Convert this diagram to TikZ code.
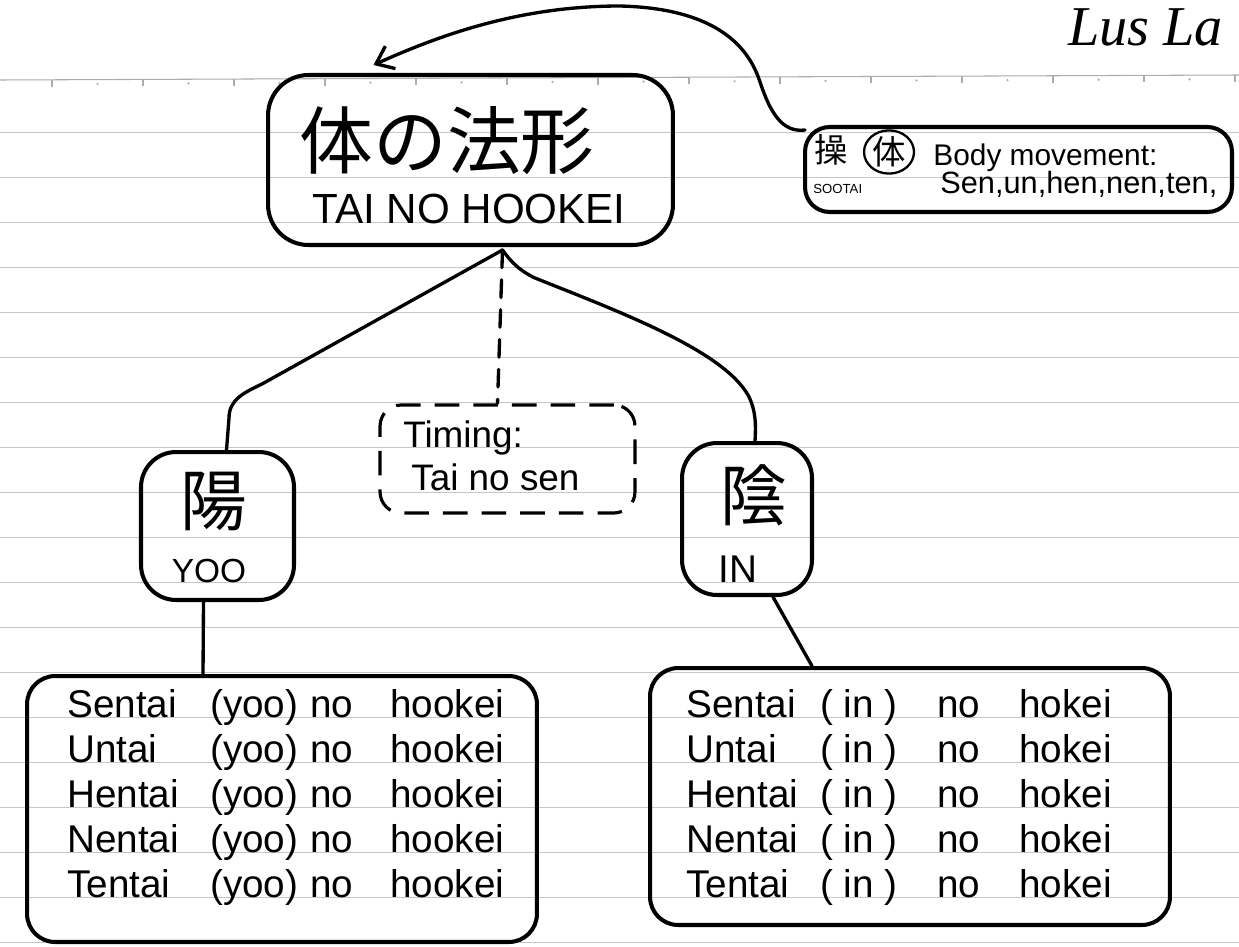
\documentclass[tikz,border=0pt]{standalone}
\usepackage{fontspec}
\setmainfont{Liberation Sans}
\newfontfamily\cjk{Noto Sans CJK JP}
\newfontfamily\sigfont{Liberation Serif}
\usetikzlibrary{calc,arrows.meta,shapes.geometric}
\newcommand{\lrow}[4]{\makebox[2.86cm][l]{#1}\makebox[2.0cm][l]{#2}\makebox[1.6cm][l]{#3}#4}
\newcommand{\rrow}[4]{\makebox[2.68cm][l]{#1}\makebox[2.34cm][l]{#2}\makebox[1.64cm][l]{#3}#4}
\tikzset{
  rule/.style={gray!45, line width=0.5pt},
  header/.style={gray!65, line width=0.6pt},
  box/.style={draw, line width=2.3pt, rounded corners=#1, inner sep=0pt},
  box/.default=18pt,
  dashbox/.style={box=#1, dash pattern=on 14pt off 8pt, line width=1.8pt},
  conn/.style={line width=1.9pt, line cap=round, line join=round},
  dashconn/.style={conn, dash pattern=on 10pt off 7pt},
  txt/.style={inner sep=0pt, anchor=base west},
  listfont/.style={font=\fontsize{22pt}{24pt}\selectfont},
  jp/.style={inner sep=0pt, font=\cjk\fontsize{#1}{#1}\selectfont},
}
\begin{document}
\begin{tikzpicture}[x=0.02cm, y=-0.02cm]
\useasboundingbox (0,0) rectangle (1239,946);
\fill[white] (0,0) rectangle (1239,946);
% ruled paper
\foreach \k in {0,...,18} \draw[rule] (0,{132+45*\k}) -- (1239,{132+45*\k});
\draw[header] (0,80) -- (1239,75);
\foreach \k in {-8,...,5} {
  \pgfmathsetmacro\xx{780+91*\k}
  \pgfmathsetmacro\yy{80-5*\xx/1239}
  \draw[header] ({\xx},{\yy}) -- ({\xx},{\yy+7});
  \fill[gray!65] ({\xx+45.5},{\yy+4}) circle (0.7pt);
}
% signature
\node[txt, font=\sigfont\itshape\fontsize{32pt}{32pt}\selectfont] (sig) at (1068,46) {Lus La};

% main box
\node[box=23pt, minimum width=8.1cm, minimum height=3.4cm] (main) at (470.5,160) {};
\node[jp=42pt] (mainjp) at (447,141) {体の法形};
\node[inner sep=0pt, anchor=base, font=\fontsize{24pt}{24pt}\selectfont] (mainro) at (469,223) {TAI NO HOOKEI};

% sootai box
\node[box=14pt, minimum width=8.54cm, minimum height=1.7cm] (soo) at (1018.5,169.5) {};
\node[jp=19pt] (sookj) at (831,150) {操};
\node[ellipse, draw, line width=1.3pt, minimum width=1.0cm, minimum height=0.8cm, inner sep=0pt, font=\cjk\fontsize{19pt}{19pt}\selectfont] (sootai) at (889,152) {体};
\node[txt, font=\fontsize{17pt}{17pt}\selectfont] (body) at (933,165) {Body movement:};
\node[txt, font=\fontsize{7.5pt}{8pt}\selectfont] (soorom) at (813,193) {SOOTAI};
\node[txt, font=\fontsize{17.5pt}{18pt}\selectfont] (senun) at (940,193) {Sen,un,hen,nen,ten,};

% timing box
\node[dashbox=12pt, minimum width=5.1cm, minimum height=2.16cm] (timing) at (507.5,459) {};
\node[txt, font=\fontsize{21pt}{21pt}\selectfont] (tim1) at (403,447) {Timing:};
\node[txt, font=\fontsize{21pt}{21pt}\selectfont] (tim2) at (411,490) {Tai no sen};

% yoo box
\node[box=20pt, minimum width=3.06cm, minimum height=2.96cm] (yoo) at (217.5,526) {};
\node[jp=38pt] (yookj) at (214,501) {陽};
\node[inner sep=0pt, anchor=base, font=\fontsize{19pt}{19pt}\selectfont] (yoorom) at (209,582) {YOO};

% in box
\node[box=20pt, minimum width=2.6cm, minimum height=3.04cm] (inbox) at (747,519) {};
\node[jp=38pt] (inkj) at (754,495) {陰};
\node[inner sep=0pt, anchor=base, font=\fontsize{22pt}{22pt}\selectfont] (inrom) at (738,582) {IN};

% lists
\node[box=16pt, minimum width=10.2cm, minimum height=5.32cm] (ylist) at (282,809) {};
\node[txt, listfont] (y1) at (67,717) {\lrow{Sentai}{(yoo)}{no}{hookei}};
\node[txt, listfont] (y2) at (67,762) {\lrow{Untai}{(yoo)}{no}{hookei}};
\node[txt, listfont] (y3) at (67,807) {\lrow{Hentai}{(yoo)}{no}{hookei}};
\node[txt, listfont] (y4) at (67,852) {\lrow{Nentai}{(yoo)}{no}{hookei}};
\node[txt, listfont] (y5) at (67,897) {\lrow{Tentai}{(yoo)}{no}{hookei}};

\node[box=16pt, minimum width=10.4cm, minimum height=5.14cm] (rlist) at (910,796.5) {};
\node[txt, listfont] (r1) at (686,717) {\rrow{Sentai}{( in )}{no}{hokei}};
\node[txt, listfont] (r2) at (686,762) {\rrow{Untai}{( in )}{no}{hokei}};
\node[txt, listfont] (r3) at (686,807) {\rrow{Hentai}{( in )}{no}{hokei}};
\node[txt, listfont] (r4) at (686,852) {\rrow{Nentai}{( in )}{no}{hokei}};
\node[txt, listfont] (r5) at (686,897) {\rrow{Tentai}{( in )}{no}{hokei}};

% connectors
\coordinate (apex) at ($(main.south)+(32,3)$);
\coordinate (sooc) at ($(soo.north west)+(2,5)$);
\coordinate (atip) at ($(main.north)+(-97,-8)$);
\draw[conn, -{Straight Barb[length=9pt,width=14pt]}] (sooc)
  .. controls (782,133) and (770,112) .. (760,82)
  .. controls (745,35) and (700,8) .. (620,6)
  .. controls (520,6) and (440,35) .. (atip);
\draw[conn] ($(yoo.north)+(9,0)$) -- (229,418)
  .. controls (229,400) and (243,393) .. (262,384) -- (apex);
\draw[conn] (apex) .. controls (511,262) and (520,271) .. (535,278)
  .. controls (620,312) and (722,350) .. (748,395)
  .. controls (756,410) and (756,425) .. ($(inbox.north)+(8,0)$);
\draw[dashconn] (apex) -- ($(timing.north)+(-10,0)$);
\draw[conn] ($(yoo.south)+(-14,0)$) -- ($(ylist.north)+(-79,0)$);
\draw[conn] ($(inbox.south)+(26,0)$) -- ($(rlist.north)+(-98,0)$);
\end{tikzpicture}
\end{document}
